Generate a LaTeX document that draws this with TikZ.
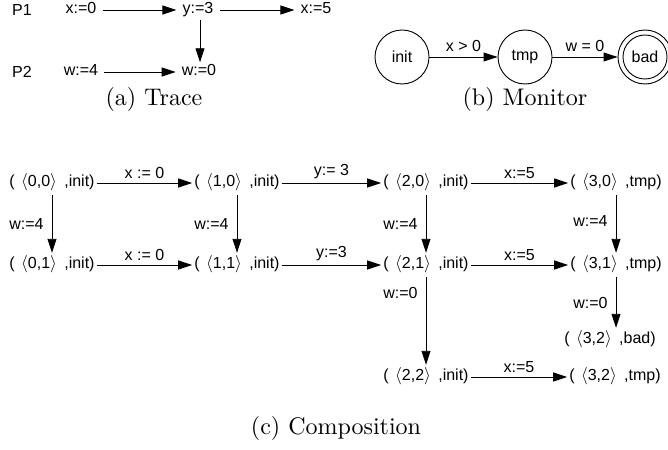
\documentclass[tikz,border=0pt]{standalone}
\usepackage{fontspec}
\setsansfont{Liberation Sans}
\newfontfamily\capfont{lmroman10-regular.otf}
\usetikzlibrary{arrows.meta}
\begin{document}
\begin{tikzpicture}[x=1pt,y=-1pt,
  lbl/.style={font=\sffamily\fontsize{16}{18}\selectfont, inner xsep=0pt, inner ysep=0pt},
  tr/.style={font=\sffamily\fontsize{16}{18}\selectfont, text height=10pt, text depth=3pt, inner xsep=6pt, inner ysep=3pt},
  cn/.style={font=\sffamily\fontsize{16}{18}\selectfont, text height=10pt, text depth=3pt, inner xsep=2pt, inner ysep=5.5pt},
  arr/.style={-{Triangle[length=14pt,width=9pt]}, line width=0.9pt},
  capt/.style={font=\capfont\fontsize{24}{28}\selectfont, inner sep=0pt},
  st/.style={circle, draw, line width=0.9pt, minimum size=54pt, inner sep=0pt, font=\sffamily\fontsize{16}{18}\selectfont}
]
\useasboundingbox (0,0) rectangle (668,449);
% ---------- (a) Trace
\node[lbl] (p1) at (22,10) {P1};
\node[lbl] (p2) at (22,72) {P2};
\node[tr] (t1) at (81,10) {x:=0};
\node[tr] (t2) at (198,10) {y:=3};
\node[tr] (t3) at (316,10) {x:=5};
\node[tr] (t4) at (81,72) {w:=4};
\node[tr] (t5) at (199,72) {w:=0};
\draw[arr] (t1) -- (t2);
\draw[arr] (t2) -- (t3);
\draw[arr] (t4) -- (t5);
\draw[arr] (t2.south -| 200,0) -- (t5.north -| 200,0);
\node[capt] (ca) at (154,100) {(a) Trace};
% ---------- (b) Monitor
\node[st] (init) at (402,57) {init};
\node[st] (tmp) at (525,57) {tmp};
\node[st] (bad) at (645,57) {bad};
\draw[line width=0.9pt] (bad.center) circle (22pt);
\draw[arr] (init) -- node[lbl, above=5pt] {x > 0} (tmp);
\draw[arr] (tmp) -- node[lbl, above=5pt] {w = 0} (bad);
\node[capt] (cb) at (525,100) {(b) Monitor};
% ---------- (c) Composition
\newcommand{\st}[3]{(\hspace{2pt} $\langle$#1,#2$\rangle$\hspace{3pt} ,#3)}
\node[cn] (n00) at (52,183) {\st{0}{0}{init}};
\node[cn] (n10) at (237,183) {\st{1}{0}{init}};
\node[cn] (n20) at (426,183) {\st{2}{0}{init}};
\node[cn] (n30) at (616,183) {\st{3}{0}{tmp}};
\node[cn] (n01) at (52,265) {\st{0}{1}{init}};
\node[cn] (n11) at (237,265) {\st{1}{1}{init}};
\node[cn] (n21) at (426,265) {\st{2}{1}{init}};
\node[cn] (n31) at (616,265) {\st{3}{1}{tmp}};
\node[cn] (n32b) at (610,340) {\st{3}{2}{bad}};
\node[cn] (n22) at (426,377) {\st{2}{2}{init}};
\node[cn] (n32) at (615,377) {\st{3}{2}{tmp}};
\draw[arr] (n00) -- node[lbl, above=4pt] {x := 0} (n10);
\draw[arr] (n10) -- node[lbl, above=4pt] {y:= 3} (n20);
\draw[arr] (n20) -- node[lbl, above=4pt] {x:=5} (n30);
\draw[arr] (n01) -- node[lbl, above=4pt] {x := 0} (n11);
\draw[arr] (n11) -- node[lbl, above=4pt] {y:=3} (n21);
\draw[arr] (n21) -- node[lbl, above=4pt] {x:=5} (n31);
\draw[arr] (n22) -- node[lbl, above=4pt] {x:=5} (n32);
\draw[arr] (n00) -- node[lbl, left=8pt] {w:=4} (n01);
\draw[arr] (n10) -- node[lbl, left=8pt] {w:=4} (n11);
\draw[arr] (n20) -- node[lbl, left=8pt] {w:=4} (n21);
\draw[arr] (n30) -- node[lbl, left=8pt, pos=0.45] {w:=4} (n31);
\draw[arr] (n21) -- node[lbl, left=8pt, pos=0.18] {w:=0} (n22);
\draw[arr] (n31.south) -- node[lbl, left=8pt] {w:=0} (n31.south |- n32b.north);
\node[capt] (cc) at (336,428) {(c) Composition};
\end{tikzpicture}
\end{document}
